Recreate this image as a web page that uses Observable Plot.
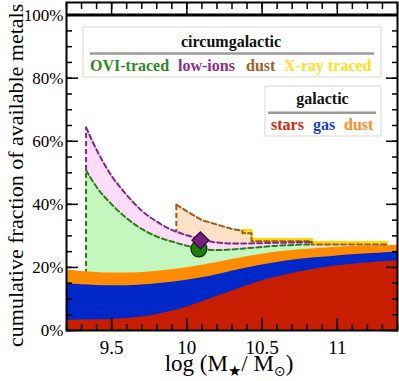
<!DOCTYPE html>
<html><head><meta charset="utf-8">
<script src="https://cdn.jsdelivr.net/npm/d3@7"></script>
<script src="https://cdn.jsdelivr.net/npm/@observablehq/plot@0.6"></script>
<style>body{margin:0;background:#fff}</style>
</head><body><div id="chart"></div>
<script>
const mass      = [9.2, 9.3, 9.4, 9.5, 9.6, 9.7, 9.8, 9.9, 10.0, 10.1, 10.2, 10.3, 10.4, 10.5, 10.6, 10.7, 10.8, 10.9, 11.0, 11.1, 11.2, 11.3, 11.4];
const starsTop  = [3.2, 3.3, 3.4, 3.5, 3.8, 4.3, 5.0, 6.1, 7.4, 9.0, 10.8, 12.5, 14.2, 15.8, 17.0, 18.1, 19.0, 19.8, 20.5, 21.0, 21.4, 21.8, 22.0];
const gasTop    = [14.8, 14.5, 14.3, 14.2, 14.2, 14.4, 14.8, 15.3, 15.9, 16.7, 17.7, 18.8, 19.8, 20.8, 21.6, 22.3, 22.8, 23.2, 23.6, 24.0, 24.3, 24.6, 24.8];
const galDustTop= [19.2, 18.7, 18.4, 18.2, 18.2, 18.4, 18.8, 19.3, 19.9, 20.7, 21.6, 22.5, 23.4, 24.2, 24.9, 25.4, 25.8, 26.1, 26.4, 26.6, 26.8, 26.9, 27.0];

const cgmMass   = [9.33, 9.4, 9.5, 9.6, 9.7, 9.8, 9.9, 10.0, 10.1, 10.2, 10.3, 10.4, 10.5, 10.6, 10.7, 10.8, 10.83];
const oviTop    = [50.8, 45.5, 40.0, 35.6, 32.2, 29.8, 28.2, 26.9, 25.9, 25.5, 25.7, 26.1, 26.5, 26.9, 27.1, 27.3, 27.3];
const lowIonTop = [64.4, 57.3, 49.0, 43.0, 38.0, 34.5, 31.9, 30.2, 28.8, 27.9, 27.6, 27.6, 27.7, 27.8, 27.9, 28.0, 28.0];

const cgmDustMass = [9.93, 10.0, 10.1, 10.2, 10.3, 10.37, 10.37, 10.43, 10.43, 10.83, 10.83, 11.33];
const cgmDustTop  = [39.9, 37.8, 35.0, 33.6, 32.2, 31.6, 30.8, 30.8, 28.3, 28.3, 27.3, 27.3];

const xrayMass = [10.37, 10.43, 10.43, 10.83, 10.83, 11.33];
const xrayLo   = [30.8, 30.8, 28.3, 28.3, 27.3, 27.3];
const xrayHi   = [31.8, 31.8, 28.9, 28.9, 27.9, 27.9];

const oviPoint = [{m: 10.08, f: 25.9}];
const lowPoint = [{m: 10.09, f: 28.6}];

const xMajor = [9.5, 10, 10.5, 11];
const xTickLabels = ["9.5", "10", "10.5", "11"];
const yMajor = [0, 20, 40, 60, 80, 100];
const yTickLabels = ["0%", "20%", "40%", "60%", "80%", "100%"];
const xMinor = d3.range(92, 115).map(d => d / 10);
const yMinor = d3.range(0, 105, 5);

const cgmLabels = ["OVI-traced", "low-ions", "dust", "X-ray traced"];
const cgmColors = ["#2d8a1e", "#8a2c8e", "#a0621e", "#ffe01a"];
const galLabels = ["stars", "gas", "dust"];
const galColors = ["#d02a10", "#1a3ccf", "#ff8c1a"];

const C = {
  stars: "#c81e00", gas: "#0028c8", galDust: "#ff8c00",
  oviFill: "#c4f7bd", oviLine: "#2c7d1a",
  lowFill: "#fcdcf9", lowLine: "#7e2a88",
  dustFill: "#fde2c7", dustLine: "#9c5c1c",
  xrayFill: "#fff09a", xrayLine: "#ffd800"
};

const galactic = mass.map((m, i) => ({m, stars: starsTop[i], gas: gasTop[i], dust: galDustTop[i]}));
const cgm = cgmMass.map((m, i) => ({m, ovi: oviTop[i], low: lowIonTop[i]}));
const dust = cgmDustMass.map((m, i) => ({m, top: cgmDustTop[i]}));
const xray = xrayMass.map((m, i) => ({m, lo: xrayLo[i], hi: xrayHi[i]}));

const diamond = {
  draw(ctx, size) {
    const h = Math.sqrt(size / Math.PI);
    ctx.moveTo(0, -h); ctx.lineTo(h, 0); ctx.lineTo(0, h); ctx.lineTo(-h, 0); ctx.closePath();
  }
};

const serif = "Liberation Serif";
const dash = "5,3";
const plot = Plot.plot({
  width: 399, height: 381,
  marginLeft: 66, marginRight: 2, marginTop: 2, marginBottom: 51,
  x: {domain: [9.2, 11.4]},
  y: {domain: [0, 104]},
  style: {fontFamily: serif, background: "white", color: "black", overflow: "visible"},
  marks: [
    Plot.areaY(dust, {x: "m", y1: 0, y2: "top", fill: C.dustFill}),
    Plot.areaY(xray, {x: "m", y1: "lo", y2: "hi", fill: C.xrayFill, stroke: C.xrayLine, strokeWidth: 1.5}),
    Plot.ruleX([dust[0]], {x: "m", y1: 0, y2: "top", stroke: C.dustLine, strokeWidth: 2, strokeDasharray: dash}),
    Plot.areaY(cgm, {x: "m", y1: 0, y2: "low", fill: C.lowFill, curve: "monotone-x"}),
    Plot.ruleX([cgm[0]], {x: "m", y1: 0, y2: "low", stroke: C.lowLine, strokeWidth: 2, strokeDasharray: dash}),
    Plot.areaY(cgm, {x: "m", y1: 0, y2: "ovi", fill: C.oviFill, curve: "monotone-x"}),
    Plot.ruleX([cgm[0]], {x: "m", y1: 0, y2: "ovi", stroke: C.oviLine, strokeWidth: 2, strokeDasharray: dash}),
    Plot.areaY(galactic, {x: "m", y1: 0, y2: "dust", fill: C.galDust, curve: "monotone-x"}),
    Plot.areaY(galactic, {x: "m", y1: 0, y2: "gas", fill: C.gas, curve: "monotone-x"}),
    Plot.areaY(galactic, {x: "m", y1: 0, y2: "stars", fill: C.stars, curve: "monotone-x"}),
    Plot.line(xray, {x: "m", y: "hi", stroke: C.xrayLine, strokeWidth: 2.5}),
    Plot.line(dust, {x: "m", y: "top", stroke: C.dustLine, strokeWidth: 2, strokeDasharray: dash}),
    Plot.line(cgm, {x: "m", y: "low", stroke: C.lowLine, strokeWidth: 2, strokeDasharray: dash, curve: "monotone-x"}),
    Plot.line(cgm, {x: "m", y: "ovi", stroke: C.oviLine, strokeWidth: 2, strokeDasharray: dash, curve: "monotone-x"}),
    Plot.dot(oviPoint, {x: "m", y: "f", r: 8, fill: "#1f7d0c", stroke: "#0b2d04", strokeWidth: 1.2}),
    Plot.dot(lowPoint, {x: "m", y: "f", r: 8.5, symbol: diamond, fill: "#7a1f80", stroke: "#2a0530", strokeWidth: 1.2}),
    Plot.ruleY([100], {stroke: "black", strokeWidth: 3}),
    Plot.frame({stroke: "black", strokeWidth: 2}),
    Plot.axisX(xMinor, {anchor: "bottom", tickSize: -6, fill: "none", strokeWidth: 1.5}),
    Plot.axisX(xMajor, {anchor: "bottom", tickSize: -12, fill: "none", strokeWidth: 1.5}),
    Plot.axisX(xMinor, {anchor: "top", tickSize: -6, fill: "none", strokeWidth: 1.5}),
    Plot.axisX(xMajor, {anchor: "top", tickSize: -12, fill: "none", strokeWidth: 1.5}),
    Plot.axisY(yMinor, {anchor: "left", tickSize: -6, fill: "none", strokeWidth: 1.5}),
    Plot.axisY(yMajor, {anchor: "left", tickSize: -12, fill: "none", strokeWidth: 1.5}),
    Plot.axisY(yMinor, {anchor: "right", tickSize: -6, fill: "none", strokeWidth: 1.5}),
    Plot.axisY(yMajor, {anchor: "right", tickSize: -12, fill: "none", strokeWidth: 1.5}),
    Plot.axisX(xMajor, {anchor: "bottom", tickSize: 0, tickPadding: 10, fontSize: 19, label: null,
      tickFormat: d => xTickLabels[xMajor.indexOf(d)]}),
    Plot.axisY(yMajor, {anchor: "left", tickSize: 0, tickPadding: 3, fontSize: 17, label: null,
      tickFormat: d => yTickLabels[yMajor.indexOf(d)]})
  ]
});

const svg = d3.select(plot);

svg.append("text")
  .attr("transform", "translate(22.5,347) rotate(-90)")
  .attr("text-anchor", "start")
  .attr("font-family", serif).attr("font-size", 22).attr("fill", "black")
  .text("cumulative fraction of available metals");

const xl = svg.append("text")
  .attr("x", 229).attr("y", 371).attr("text-anchor", "middle")
  .attr("font-family", serif).attr("font-size", 23).attr("fill", "black");
xl.append("tspan").text("log (M");
xl.append("tspan").attr("dy", 5).attr("font-size", 15).attr("font-family", "DejaVu Sans").text("★");
xl.append("tspan").attr("dy", -5).text("/ M");
xl.append("tspan").attr("dy", 5).attr("font-size", 14).attr("font-family", "DejaVu Sans").text("⊙");
xl.append("tspan").attr("dy", -5).text(")");

function boldText(g, x, y, anchor, color, label) {
  return g.append("text").attr("x", x).attr("y", y).attr("text-anchor", anchor)
    .attr("font-family", serif).attr("font-weight", "bold").attr("font-size", 16)
    .attr("fill", color).text(label);
}

function legendBox(x, y, w, h, title, titleX, titleY, lineX1, lineX2, lineY, items, itemY) {
  const g = svg.append("g");
  g.append("rect").attr("x", x).attr("y", y).attr("width", w).attr("height", h)
    .attr("fill", "white").attr("stroke", "#dedede").attr("stroke-width", 1.2);
  boldText(g, titleX, titleY, "middle", "#111", title);
  g.append("line").attr("x1", lineX1).attr("x2", lineX2).attr("y1", lineY).attr("y2", lineY)
    .attr("stroke", "#9a9a9a").attr("stroke-width", 2.5);
  for (const it of items) boldText(g, it.x, itemY, "start", it.color, it.label);
}

const cgmLabelX = [90, 178, 246, 284];
legendBox(83, 27, 298, 50, "circumgalactic", 231, 47, 90, 374, 53.5,
  cgmLabels.map((label, i) => ({label, color: cgmColors[i], x: cgmLabelX[i]})), 70.5);

const galLabelX = [271, 313, 344];
legendBox(265, 86, 116, 50, "galactic", 322.5, 104, 268, 376, 112.7,
  galLabels.map((label, i) => ({label, color: galColors[i], x: galLabelX[i]})), 129.5);

document.getElementById("chart").appendChild(plot);
</script>
</body></html>
